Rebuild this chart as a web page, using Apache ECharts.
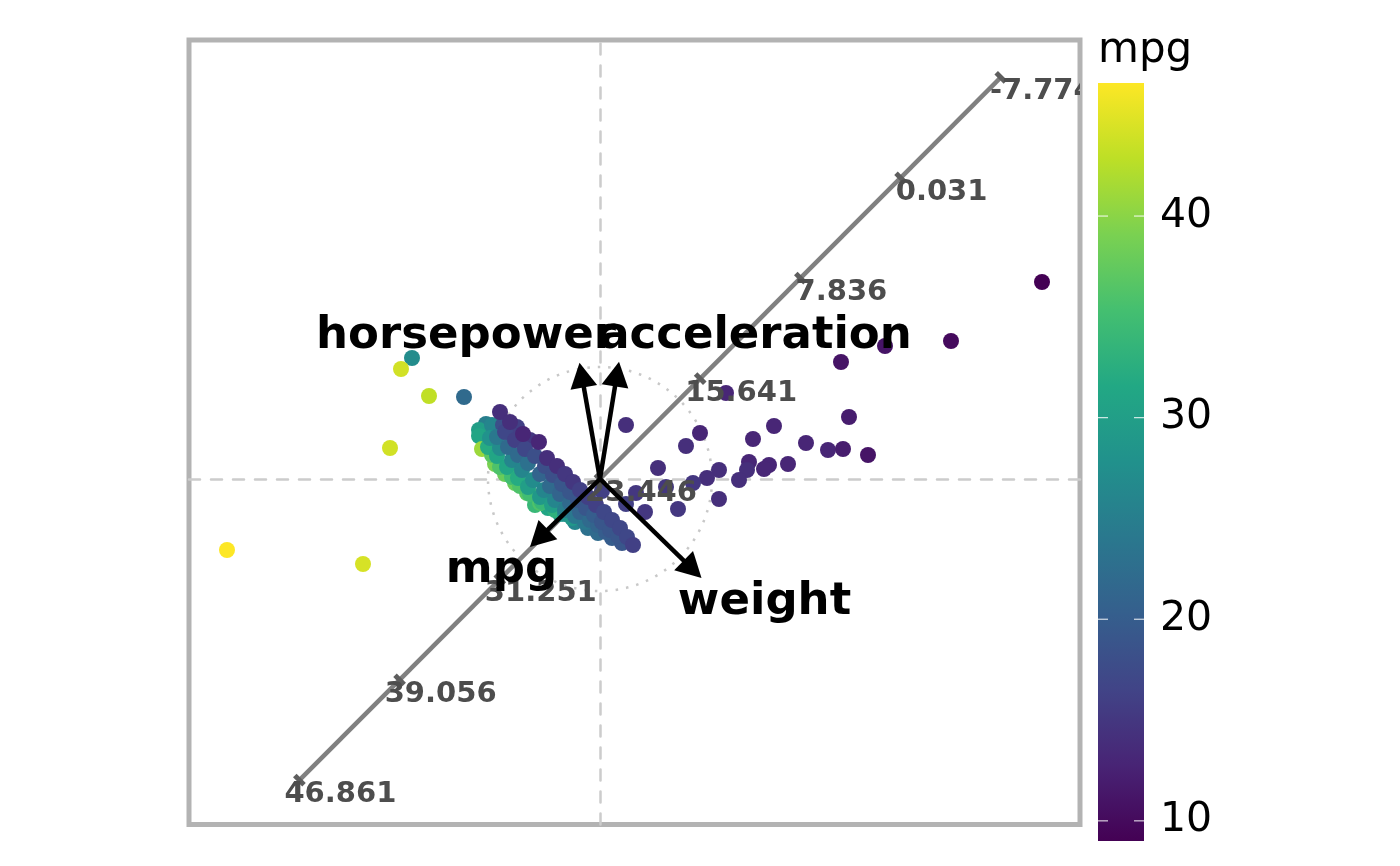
<!DOCTYPE html>
<html><head><meta charset="utf-8">
<script src="https://cdn.jsdelivr.net/npm/echarts@6/dist/echarts.min.js"></script>
<style>html,body{margin:0;padding:0;background:#fff}#chart{width:1400px;height:866px}</style>
</head><body><div id="chart"></div>
<script>
// PCA scores: [PC1, PC2, mpg]
const scores = [
  [-1.88,1.21,27],[-1.99,1.10,44],[-1.71,0.83,43],[-1.36,0.82,22],[-2.10,0.31,44],[-3.73,-0.71,46.6],[-2.37,-0.85,44.3],
  [-1.14,0.55,25],[-1.21,0.49,30],[-1.21,0.43,31],[-1.18,0.30,41],[-1.02,0.45,22],[-0.87,0.43,20],[-1.05,0.31,32],[-0.85,0.08,30],
  [-1.08,0.54,26],[-0.97,0.54,18],[-0.83,0.52,16],[-0.70,0.39,15],
  [-0.52,-0.29,31],[-0.40,-0.35,29],[-0.25,-0.43,26],[-0.12,-0.49,23],[-0.02,-0.54,22],[0.12,-0.59,20],[0.22,-0.64,19],[-0.65,-0.26,34],
  [-1.05,0.15,39],[-0.95,0.05,38],[-0.85,-0.04,38],[-0.73,-0.14,37],[-0.60,-0.24,36],
  [-1.08,0.24,37],[-1.00,0.12,36],[-0.88,0.02,35],[-0.80,-0.07,36],[-0.70,-0.15,35],[-0.58,-0.23,34],[-0.45,-0.31,33],
  [-1.12,0.32,32],[-1.03,0.23,31],[-0.93,0.12,31],[-0.82,0.01,32],[-0.72,-0.08,30],[-0.60,-0.18,29],[-0.48,-0.26,30],[-0.35,-0.35,28],[-0.28,-0.39,29],
  [-1.10,0.41,28],[-1.00,0.31,27],[-0.88,0.19,26],[-0.78,0.09,26],[-0.67,-0.01,27],[-0.56,-0.11,26],[-0.45,-0.21,26],[-0.35,-0.31,25],[-0.25,-0.37,24],[-0.15,-0.43,24],
  [-1.03,0.42,24],[-0.92,0.32,22],[-0.82,0.24,22],[-0.72,0.16,23],[-0.60,0.05,21],[-0.50,-0.07,22],[-0.40,-0.15,21],[-0.30,-0.24,22],[-0.20,-0.33,21],[-0.10,-0.41,22],[-0.02,-0.46,21],[0.06,-0.53,20],
  [-0.95,0.47,17],[-0.85,0.39,16],[-0.75,0.30,17],[-0.65,0.23,18],[-0.55,0.13,18],[-0.47,0.04,18],[-0.38,-0.05,19],[-0.30,-0.13,19],[-0.22,-0.21,19],[-0.14,-0.29,19],[-0.06,-0.36,20],[0.02,-0.43,19],[0.10,-0.51,19],[0.18,-0.57,19],
  [-1.00,0.67,14],[-0.90,0.57,14],[-0.77,0.45,13],[-0.61,0.37,13],[-0.53,0.21,14],[-0.43,0.13,14],[-0.35,0.05,15],[-0.27,-0.03,15],[-0.20,-0.11,16],[-0.12,-0.18,16],[-0.04,-0.26,16],[0.04,-0.33,17],[0.12,-0.41,17],[0.20,-0.49,17],[0.27,-0.58,17],[0.33,-0.66,16],
  [2.41,1.17,11],[1.26,0.86,13],[0.26,0.54,14],[1.00,0.46,13],[0.86,0.33,14],[1.53,0.40,13],[1.74,0.53,13],[2.49,0.62,12],[2.06,0.36,13],[2.28,0.29,13],
  [2.43,0.30,12],[2.68,0.24,11],[0.58,0.11,14],[1.88,0.15,13],[1.69,0.14,13],[1.64,0.10,13],[1.49,0.17,13],[1.47,0.09,14],[1.39,-0.01,14],[1.19,0.09,14],
  [1.07,0.01,14],[0.93,-0.04,15],[0.66,-0.08,15],[0.36,-0.14,15],[1.19,-0.20,14],[0.78,-0.30,15],[0.45,-0.33,15],[0.26,-0.25,16],[0.02,-0.12,16],
  [4.42,1.97,9],[3.51,1.38,10],[2.85,1.33,11]
];
const loadingNames = ['horsepower', 'acceleration', 'mpg', 'weight'];
const loadingTips = [[-0.205, 1.163], [0.19, 1.173], [-0.70, -0.68], [1.015, -0.99]];
const calibValues = [46.861, 39.056, 31.251, 23.446, 15.641, 7.836, 0.031, -7.774];
const calibLabels = ['46.861', '39.056', '31.251', '23.446', '15.641', '7.836', '0.031', '-7.774'];
const calibCenter = 23.446;
const calibStep = 7.805;
const calibDir = [1.002, 1.004];
const circleRadius = 1.12;
const mpgRange = [9, 46.6];
const colorbarTicks = [10, 20, 30, 40];
const viridis = ['#440154','#482475','#414487','#355f8d','#2a788e','#21918c','#22a884','#44bf70','#7ad151','#bddf26','#fde725'];

// layout (label anchors, in plot units)
const loadingLabelPos = [[-1.34, 1.43], [1.555, 1.43], [-0.985, -0.91], [1.645, -1.23]];

const FONT = '"DejaVu Sans", sans-serif';
const calibData = calibValues.map((v, i) => {
  const t = (calibCenter - v) / calibStep;
  return [t * calibDir[0], t * calibDir[1], v, i];
});

const chart = echarts.init(document.getElementById('chart'), null, {renderer: 'canvas'});
const dashed = {color: '#cccccc', width: 2.5, type: [11, 11]};

const option = {
  animation: false,
  backgroundColor: '#ffffff',
  grid: [
    {left: 189, top: 40, right: 320, bottom: 41.5, show: true, borderColor: '#b3b3b3', borderWidth: 5, backgroundColor: 'transparent'},
    {left: 1098, top: 83, width: 46, height: 758}
  ],
  xAxis: [
    {gridIndex: 0, type: 'value', min: -4.11, max: 4.80, axisLine: {show: true, onZero: true, lineStyle: dashed}, axisTick: {show: false}, axisLabel: {show: false}, splitLine: {show: false}},
    {gridIndex: 1, type: 'value', min: 0, max: 1, show: false}
  ],
  yAxis: [
    {gridIndex: 0, type: 'value', min: -3.455, max: 4.39, axisLine: {show: true, onZero: true, lineStyle: dashed}, axisTick: {show: false}, axisLabel: {show: false}, splitLine: {show: false}},
    {gridIndex: 1, type: 'value', min: mpgRange[0], max: mpgRange[1], show: false}
  ],
  visualMap: {
    type: 'continuous', show: false, min: mpgRange[0], max: mpgRange[1], dimension: 2, seriesIndex: 2,
    inRange: {color: viridis}
  },
  graphic: [{
    type: 'text', x: 1098, y: 51,
    style: {text: 'mpg', font: '42px ' + FONT, fill: '#000', align: 'left', verticalAlign: 'middle'}
  }],
  series: [
    { // dotted unit circle
      type: 'custom', xAxisIndex: 0, yAxisIndex: 0, z: 1, clip: true,
      data: [[0, 0]],
      renderItem: (params, api) => {
        const c = api.coord([0, 0]);
        const r = api.coord([circleRadius, 0])[0] - c[0];
        return {type: 'circle', shape: {cx: c[0], cy: c[1], r: r},
          style: {fill: 'none', stroke: '#c8c8c8', lineWidth: 2.5, lineDash: [2.5, 8]}};
      }
    },
    { // calibration axis line + ticks
      type: 'custom', xAxisIndex: 0, yAxisIndex: 0, z: 1, clip: true,
      data: calibData,
      renderItem: (params, api) => {
        const i = params.dataIndex;
        const p = api.coord([api.value(0), api.value(1)]);
        const children = [];
        if (i > 0) {
          const q = api.coord([calibData[i - 1][0], calibData[i - 1][1]]);
          children.push({type: 'line', z2: 0, shape: {x1: q[0], y1: q[1], x2: p[0], y2: p[1]},
            style: {stroke: '#808080', lineWidth: 4.5}});
        }
        const h = 4.6;
        children.push({type: 'line', z2: 1, shape: {x1: p[0] - h, y1: p[1] - h, x2: p[0] + h, y2: p[1] + h},
          style: {stroke: '#5e5e5e', lineWidth: 5}});
        return {type: 'group', children};
      }
    },
    { // scores
      type: 'scatter', xAxisIndex: 0, yAxisIndex: 0, z: 2,
      symbol: 'circle', symbolSize: 16,
      itemStyle: {opacity: 1},
      data: scores
    },
    { // calibration labels
      type: 'custom', xAxisIndex: 0, yAxisIndex: 0, z: 3, clip: true,
      data: calibData,
      renderItem: (params, api) => {
        const p = api.coord([api.value(0), api.value(1)]);
        return {type: 'text', style: {text: calibLabels[params.dataIndex], x: p[0] + 41, y: p[1] + 14.5,
          font: 'bold 29px ' + FONT, fill: '#4d4d4d', align: 'center', verticalAlign: 'middle'}};
      }
    },
    { // loading arrows
      type: 'custom', xAxisIndex: 0, yAxisIndex: 0, z: 4, clip: false,
      data: loadingTips.map((t, i) => [t[0], t[1], i]),
      renderItem: (params, api) => {
        const i = params.dataIndex;
        const o = api.coord([0, 0]);
        const tip = api.coord([api.value(0), api.value(1)]);
        const dx = tip[0] - o[0], dy = tip[1] - o[1];
        const len = Math.sqrt(dx * dx + dy * dy);
        const ux = dx / len, uy = dy / len;
        const hl = 25, hw = 13.5;
        const bx = tip[0] - ux * hl, by = tip[1] - uy * hl;
        const lp = api.coord(loadingLabelPos[i]);
        return {type: 'group', children: [
          {type: 'line', shape: {x1: o[0], y1: o[1], x2: bx + ux * 2, y2: by + uy * 2}, style: {stroke: '#000', lineWidth: 4.5}},
          {type: 'polygon', shape: {points: [[tip[0], tip[1]], [bx - uy * hw, by + ux * hw], [bx + uy * hw, by - ux * hw]]}, style: {fill: '#000'}},
          {type: 'text', z2: 5, style: {text: loadingNames[i], x: lp[0], y: lp[1], font: 'bold 45px ' + FONT, fill: '#000', align: 'center', verticalAlign: 'middle'}}
        ]};
      }
    },
    { // colorbar
      type: 'custom', xAxisIndex: 1, yAxisIndex: 1, z: 2, clip: false,
      data: [[0, mpgRange[0]]],
      renderItem: (params, api) => {
        const a = api.coord([0, mpgRange[1]]);
        const b = api.coord([1, mpgRange[0]]);
        const stops = viridis.map((c, k) => ({offset: 1 - k / (viridis.length - 1), color: c})).reverse();
        return {type: 'rect', shape: {x: a[0], y: a[1], width: b[0] - a[0], height: b[1] - a[1]},
          style: {fill: new echarts.graphic.LinearGradient(0, 0, 0, 1, stops)}};
      }
    },
    { // colorbar ticks and labels
      type: 'custom', xAxisIndex: 1, yAxisIndex: 1, z: 3, clip: false,
      data: colorbarTicks.map(v => [0, v]),
      renderItem: (params, api) => {
        const l = api.coord([0, api.value(1)]);
        const r = api.coord([1, api.value(1)]);
        const tl = 10;
        return {type: 'group', children: [
          {type: 'line', shape: {x1: l[0], y1: l[1], x2: l[0] + tl, y2: l[1]}, style: {stroke: '#ffffff', lineWidth: 1.2, opacity: 0.8}},
          {type: 'line', shape: {x1: r[0] - tl, y1: r[1], x2: r[0], y2: r[1]}, style: {stroke: '#ffffff', lineWidth: 1.2, opacity: 0.8}},
          {type: 'text', style: {text: String(api.value(1)), x: r[0] + 16, y: r[1], font: '41px ' + FONT, fill: '#000', align: 'left', verticalAlign: 'middle'}}
        ]};
      }
    }
  ]
};
chart.setOption(option);
</script>
</body></html>
